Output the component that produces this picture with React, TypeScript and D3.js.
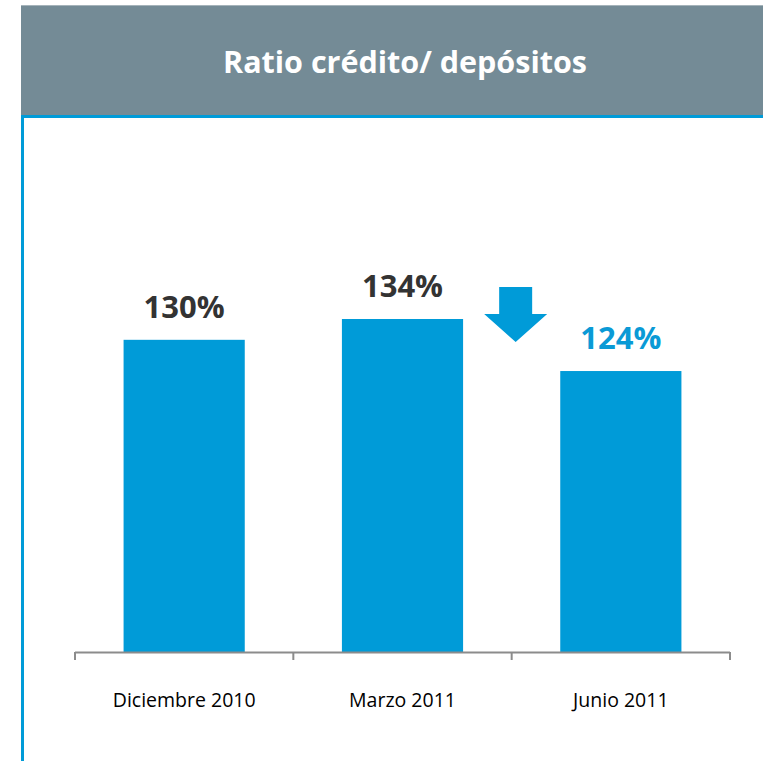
import React from "react";
import * as d3 from "d3";

const categories = ["Diciembre 2010", "Marzo 2011", "Junio 2011"];
const values = [130, 134, 124];
const valueLabels = ["130%", "134%", "124%"];
const title = "Ratio crédito/ depósitos";

const W = 763;
const H = 761;
const BAR = "#009bd8";
const HEADER = "#748b96";

export default function App() {
  const x = d3
    .scaleBand<string>()
    .domain(categories)
    .range([75, 730])
    .paddingInner(0.445)
    .paddingOuter(0.2225);
  const y = d3.scaleLinear().domain([70, 134]).range([652, 319]);
  const step = x.step();
  const left = 75;
  const tickXs = d3.range(categories.length + 1).map((i) => left + i * step);

  // arrow between bar 2 and 3
  const ax = tickXs[2] + 4;
  const aTop = y(134) - 32;
  const aHeadY = aTop + 27;
  const aTip = aTop + 55;
  const shaftHalf = 16.5;
  const headHalf = 31.5;
  const arrowPath = `M${ax - shaftHalf},${aTop} L${ax + shaftHalf},${aTop} L${ax + shaftHalf},${aHeadY} L${ax + headHalf},${aHeadY} L${ax},${aTip} L${ax - headHalf},${aHeadY} L${ax - shaftHalf},${aHeadY} Z`;

  return (
    <svg
      width={W}
      height={H}
      style={{ position: "absolute", left: 0, top: 0, background: "#fff" }}
      fontFamily="'Open Sans', sans-serif"
    >
      <rect x={0} y={0} width={W} height={H} fill="#fff" />
      {/* header */}
      <rect x={21} y={5} width={W - 21} height={110} fill={HEADER} />
      <line x1={21} x2={W} y1={5.5} y2={5.5} stroke="#a5b3ba" strokeWidth={1} />
      <text
        x={405}
        y={73}
        textAnchor="middle"
        fill="#fff"
        fontWeight={700}
        fontSize={30.5}
      >
        {title}
      </text>
      {/* blue frame */}
      <rect x={21} y={115} width={W - 21} height={3} fill={BAR} />
      <rect x={21} y={115} width={3} height={H - 115} fill={BAR} />

      {/* bars */}
      {categories.map((c, i) => (
        <rect
          key={c}
          x={x(c)}
          y={y(values[i])}
          width={x.bandwidth()}
          height={652 - y(values[i])}
          fill={BAR}
        />
      ))}
      {/* value labels */}
      {categories.map((c, i) => (
        <text
          key={"v" + c}
          x={(x(c) as number) + x.bandwidth() / 2}
          y={y(values[i]) - 22}
          textAnchor="middle"
          fontWeight={700}
          fontSize={31}
          fill={i === 2 ? "#0a9ad6" : "#333333"}
        >
          {valueLabels[i]}
        </text>
      ))}

      {/* axis */}
      <line x1={left} x2={730} y1={652.5} y2={652.5} stroke="#8c8c8c" strokeWidth={2} />
      {tickXs.map((t, i) => (
        <line key={"t" + i} x1={t} x2={t} y1={652} y2={660} stroke="#8c8c8c" strokeWidth={2} />
      ))}
      {categories.map((c) => (
        <text
          key={"l" + c}
          x={(x(c) as number) + x.bandwidth() / 2}
          y={707}
          textAnchor="middle"
          fontSize={19.5}
          fill="#000"
        >
          {c}
        </text>
      ))}

      {/* arrow */}
      <path d={arrowPath} fill={BAR} />
    </svg>
  );
}
